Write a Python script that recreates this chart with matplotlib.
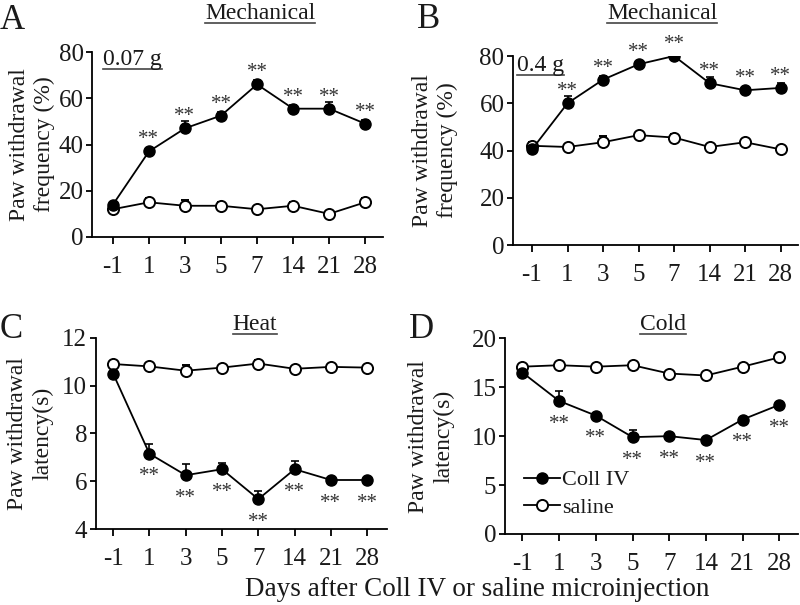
import matplotlib
matplotlib.use("Agg")
import matplotlib.pyplot as plt
from matplotlib.lines import Line2D
import numpy as np

plt.rcParams['font.family'] = ['Liberation Serif', 'DejaVu Serif']

days = ["-1", "1", "3", "5", "7", "14", "21", "28"]

mechA_coll = [14, 37, 47, 52.5, 66, 55.5, 55.5, 49]
mechA_coll_err = [1, 1.5, 3, 1.5, 2, 1.5, 3, 1.5]
mechA_sal = [12, 15, 13.5, 13.5, 12, 13.5, 10, 15]
mechA_sal_err = [1, 2, 2.5, 1.5, 1, 1.5, 1, 2]

mechB_coll = [40.5, 60, 70, 76.5, 80, 68.5, 65.5, 66.5]
mechB_coll_err = [1.5, 3, 1.5, 1.5, 1, 2.5, 1, 2]
mechB_sal = [42, 41.5, 43.5, 46.5, 45.5, 41.5, 43.5, 40.5]
mechB_sal_err = [1.5, 1, 2.5, 1.5, 1.5, 1, 1.5, 1]

heat_coll = [10.5, 7.15, 6.25, 6.5, 5.25, 6.5, 6.05, 6.05]
heat_coll_err = [0.1, 0.4, 0.45, 0.28, 0.35, 0.35, 0.08, 0.08]
heat_sal = [10.9, 10.8, 10.62, 10.75, 10.92, 10.7, 10.78, 10.75]
heat_sal_err = [0.1, 0.15, 0.25, 0.1, 0.15, 0.1, 0.1, 0.1]

cold_coll = [16.5, 13.6, 12.1, 9.9, 10.0, 9.6, 11.7, 13.2]
cold_coll_err = [0.3, 1.0, 0.3, 0.7, 0.3, 0.3, 0.3, 0.3]
cold_sal = [17.1, 17.25, 17.1, 17.25, 16.4, 16.2, 17.1, 18.05]
cold_sal_err = [0.3, 0.3, 0.3, 0.3, 0.3, 0.3, 0.3, 0.3]

fig = plt.figure(figsize=(8.0, 6.05), dpi=100)

TICK_FS = 18
LAB_FS = 17
STAR_FS = 15
TXT = '#1a1a1a'
panels = [
    dict(rect=[0.115, 0.6083, 0.364, 0.3057], letter="A", title="Mechanical",
         coll=mechA_coll, ce=mechA_coll_err, sal=mechA_sal, se=mechA_sal_err,
         ylim=(0, 80), yticks=[0, 20, 40, 60, 80], xlim=(-0.58, 7.5),
         ylabel="Paw withdrawal\nfrequency (%)", star=+1, note="0.07 g",
         letter_xy=(0, 4), title_xy=(260, 3), note_xy=(103, 60), ylab_x=55),
    dict(rect=[0.641, 0.595, 0.357, 0.3124], letter="B", title="Mechanical",
         coll=mechB_coll, ce=mechB_coll_err, sal=mechB_sal, se=mechB_sal_err,
         ylim=(0, 80), yticks=[0, 20, 40, 60, 80], xlim=(-0.54, 7.5),
         ylabel="Paw withdrawal\nfrequency (%)", star=+1, note="0.4 g",
         letter_xy=(417, 3), title_xy=(662, 3), note_xy=(517, 66), ylab_x=458),
    dict(rect=[0.1196, 0.1256, 0.3644, 0.3162], letter="C", title="Heat",
         coll=heat_coll, ce=heat_coll_err, sal=heat_sal, se=heat_sal_err,
         ylim=(4, 12), yticks=[4, 6, 8, 10, 12], xlim=(-0.48, 7.55),
         ylabel="Paw withdrawal\nlatency(s)", star=-1, note=None,
         letter_xy=(0, 313), title_xy=(255, 314), note_xy=None, ylab_x=53),
    dict(rect=[0.631, 0.1174, 0.367, 0.3234], letter="D", title="Cold",
         coll=cold_coll, ce=cold_coll_err, sal=cold_sal, se=cold_sal_err,
         ylim=(0, 20), yticks=[0, 5, 10, 15, 20], xlim=(-0.48, 7.52),
         ylabel="Paw withdrawal\nlatency(s)", star=-1, note=None,
         letter_xy=(409, 313), title_xy=(663, 314), note_xy=None, ylab_x=454),
]

W, H = 800.0, 605.0

def fxy(px, py):
    return px / W, 1 - py / H

underline_texts = []
for p in panels:
    ax = fig.add_axes(p["rect"])
    x = np.arange(len(days))
    ce = np.array(p["ce"]); se = np.array(p["se"])
    ax.errorbar(x, p["sal"], yerr=[np.zeros_like(se), se], color='black', lw=1.3,
                marker='o', ms=8, mfc='white', mec='black', mew=1.4,
                capsize=3, elinewidth=1.2, capthick=1.2, zorder=3)
    ax.errorbar(x, p["coll"], yerr=[np.zeros_like(ce), ce], color='black', lw=1.3,
                marker='o', ms=8, mfc='black', mec='black',
                capsize=3, elinewidth=1.2, capthick=1.2, zorder=4)
    dy = 12.5 * p["star"] - 0.5 * STAR_FS
    for i in range(1, len(days)):
        ax.annotate("**", (x[i], p["coll"][i]),
                    xytext=(0, dy), textcoords='offset points',
                    ha='center', va='baseline', fontsize=STAR_FS, color='#333333')
    ax.set_xlim(*p["xlim"])
    ax.set_ylim(*p["ylim"])
    ax.set_xticks(x)
    ax.set_xticklabels(days)
    ax.set_yticks(p["yticks"])
    ax.tick_params(labelsize=TICK_FS, direction='out', length=4, width=1.3, pad=2,
                   labelcolor=TXT)
    ax.tick_params(axis='x', pad=9, length=5)
    for s in ['top', 'right']:
        ax.spines[s].set_visible(False)
    for s in ['left', 'bottom']:
        ax.spines[s].set_linewidth(1.3)
    ax.set_ylabel(p["ylabel"], fontsize=LAB_FS, linespacing=1.25, color=TXT)
    ax.yaxis.set_label_coords((p["ylab_x"] - p["rect"][0] * W) / (p["rect"][2] * W), 0.5)
    fig.text(*fxy(*p["letter_xy"]), p["letter"], fontsize=25, ha='left', va='top', color=TXT)
    t = fig.text(*fxy(*p["title_xy"]), p["title"], fontsize=LAB_FS, ha='center', va='top', color=TXT)
    underline_texts.append(t)
    if p["note"]:
        n = fig.text(*fxy(*p["note_xy"]), p["note"], fontsize=LAB_FS, ha='left',
                     va='center', color=TXT)
        underline_texts.append(n)
    if p["letter"] == "D":
        hc = Line2D([], [], color='black', lw=1.3, marker='o', ms=8, mfc='black')
        hs = Line2D([], [], color='black', lw=1.3, marker='o', ms=8, mfc='white', mew=1.4)
        ax.legend([hc, hs], ["Coll IV", "saline"], loc='lower left',
                  bbox_to_anchor=(0.02, 0.015), frameon=False, fontsize=16,
                  handlelength=1.6, handletextpad=0.1, borderaxespad=0.2,
                  labelspacing=0.3, labelcolor=TXT)

fig.text(477 / W, 1 - 590 / H, "Days after Coll IV or saline microinjection", fontsize=19.5,
         ha='center', va='center', color=TXT)

fig.canvas.draw()
r = fig.canvas.get_renderer()
inv = fig.transFigure.inverted()
for t in underline_texts:
    bb = t.get_window_extent(r)
    (x0, y0), (x1, y1) = inv.transform([(bb.x0, bb.y0), (bb.x1, bb.y0)])
    y = y0 + 1.5 / H
    fig.add_artist(Line2D([x0, x1], [y, y], transform=fig.transFigure,
                          color='#444444', lw=1.2))

fig.savefig("out.png", dpi=100)
